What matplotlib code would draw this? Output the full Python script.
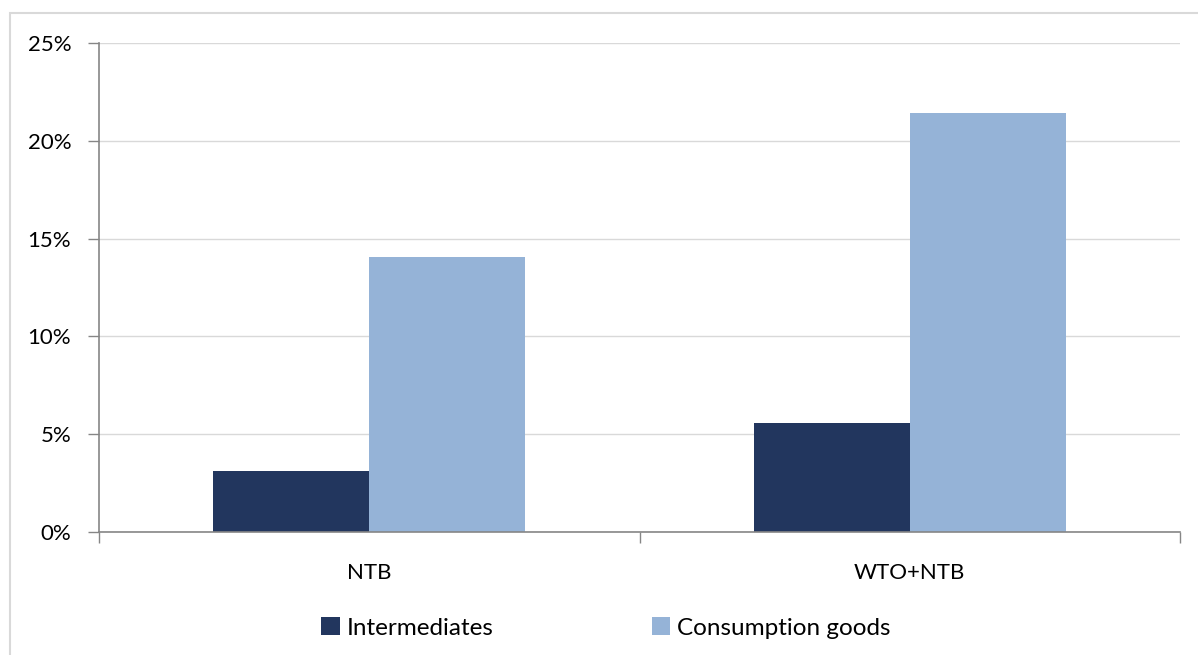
import matplotlib.pyplot as plt
import numpy as np
from matplotlib.patches import Rectangle
from matplotlib.ticker import PercentFormatter

categories = ['NTB', 'WTO+NTB']
intermediates = [3.1, 5.55]
consumption_goods = [14.05, 21.4]
y_ticks = [0, 5, 10, 15, 20, 25]

plt.rcParams['font.family'] = ['Lato', 'DejaVu Sans']

fig = plt.figure(figsize=(11.98, 6.55), dpi=100)
ax = fig.add_axes([99 / 1198, 1 - 532 / 655, (1180 - 99) / 1198, (532 - 43) / 655])

# outer chart border (light gray)
fig.patches.append(Rectangle((10 / 1198, -0.1), 1.1, 1 - 13 / 655 + 0.1,
                             transform=fig.transFigure, fill=False,
                             edgecolor='#D9D9D9', linewidth=1.5))

x = np.arange(len(categories))
w = 0.289
ax.bar(x - w / 2, intermediates, w, color='#22365E', label='Intermediates')
ax.bar(x + w / 2, consumption_goods, w, color='#95B3D7', label='Consumption goods')

ax.set_xlim(-0.5, 1.5)
ax.set_ylim(0, 25)
ax.set_yticks(y_ticks)
ax.yaxis.set_major_formatter(PercentFormatter(decimals=0))
ax.grid(axis='y', color='#D9D9D9', linewidth=1)
ax.set_axisbelow(True)

ax.set_xticks(x)
ax.set_xticklabels(categories)
ax.set_xticks([-0.5, 0.5, 1.5], minor=True)
ax.tick_params(axis='x', which='major', length=0, pad=22, labelsize=16)
ax.tick_params(axis='x', which='minor', length=8, color='#868686', width=1)
ax.tick_params(axis='y', length=8, color='#868686', width=1, pad=12, labelsize=16)

for side in ['top', 'right']:
    ax.spines[side].set_visible(False)
for side in ['left', 'bottom']:
    ax.spines[side].set_color('#868686')
    ax.spines[side].set_linewidth(1.2)

fig.legend(loc='center', bbox_to_anchor=(606 / 1198, 1 - 628 / 655), ncol=2, frameon=False,
           fontsize=17.5, handlelength=0.75, handleheight=0.75,
           handletextpad=0.3, columnspacing=6.5)

fig.savefig('out.png', dpi=100)
